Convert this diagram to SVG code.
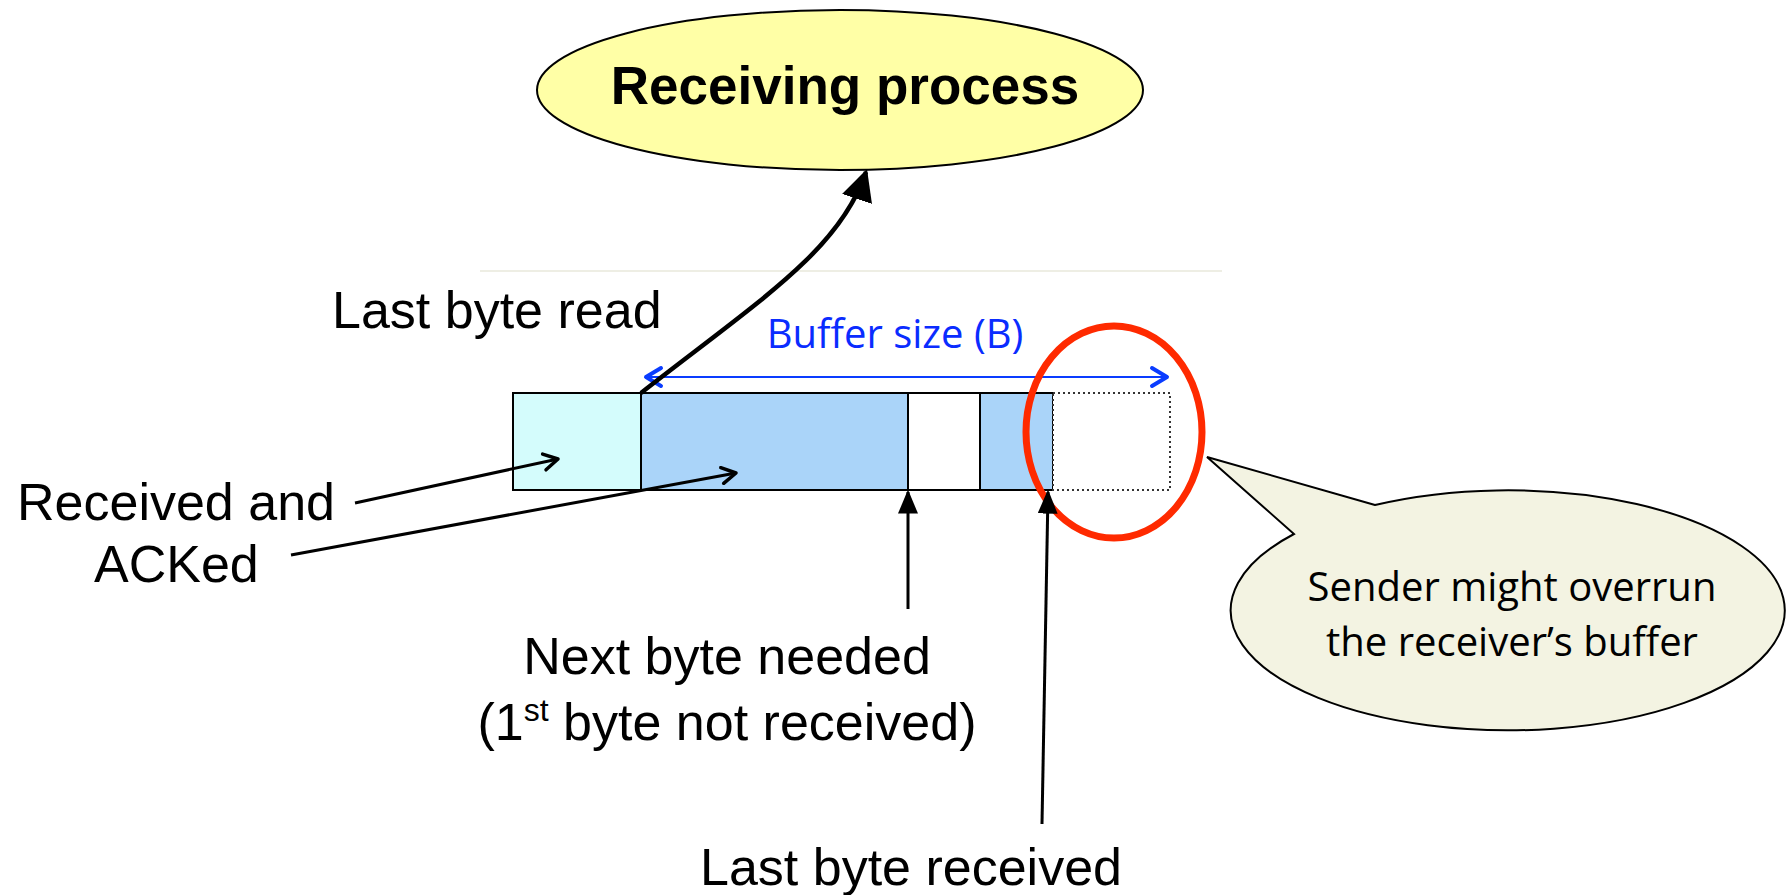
<svg xmlns="http://www.w3.org/2000/svg" width="1791" height="895" viewBox="0 0 1791 895">
<defs>
<style>
.lbl{font-family:"Liberation Sans",Arial,sans-serif;font-size:52px;fill:#000}
.cal{font-family:"Open Sans","Noto Sans",sans-serif;font-size:40px}
.box{stroke:#000;stroke-width:2}
.conn{fill:none;stroke:#000;stroke-width:3}
</style>
<marker id="fill" viewBox="0 0 10 10" refX="9" refY="5" markerWidth="24" markerHeight="20" markerUnits="userSpaceOnUse" orient="auto" preserveAspectRatio="none">
<path d="M0,0 L10,5 L0,10 z" fill="#000"/>
</marker>
<marker id="filbig" viewBox="0 0 10 10" refX="9" refY="5" markerWidth="7" markerHeight="7" orient="auto">
<path d="M0,0 L10,5 L0,10 z" fill="#000"/>
</marker>
<marker id="open" viewBox="0 0 20 20" refX="18" refY="10" markerWidth="20" markerHeight="20" markerUnits="userSpaceOnUse" orient="auto">
<path d="M4,2 L18,10 L4,18" fill="none" stroke="#000" stroke-width="3.5" stroke-linecap="round" stroke-linejoin="round"/>
</marker>
<marker id="blue" viewBox="0 0 24 24" refX="21" refY="12" markerWidth="24" markerHeight="24" markerUnits="userSpaceOnUse" orient="auto-start-reverse">
<path d="M6,3 L21,12 L6,21" fill="none" stroke="#0a3cff" stroke-width="4" stroke-linecap="round" stroke-linejoin="round"/>
</marker>
</defs>
<rect width="1791" height="895" fill="#fff"/>
<line x1="480" y1="271" x2="1222" y2="271" stroke="#eeeee4" stroke-width="2"/>

<g id="receiving-process">
<ellipse cx="840" cy="90" rx="303" ry="80" fill="#ffffa6" stroke="#000" stroke-width="2"/>
<text x="845" y="104" text-anchor="middle" font-family="Liberation Sans,Arial,sans-serif" font-size="53" font-weight="bold">Receiving process</text>
</g>

<g id="buffer">
<rect class="box" x="513" y="393" width="128" height="97" fill="#d4fcfc"/>
<rect class="box" x="641" y="393" width="267" height="97" fill="#aad4f9"/>
<rect class="box" x="908" y="393" width="72" height="97" fill="#fff"/>
<rect class="box" x="980" y="393" width="73" height="97" fill="#aad4f9"/>
<rect x="1053" y="393" width="117" height="97" fill="#fff" stroke="#333" stroke-width="2" stroke-dasharray="2,3"/>
</g>

<g id="buffer-size">
<line x1="646" y1="377" x2="1167" y2="377" stroke="#0a3cff" stroke-width="2" marker-start="url(#blue)" marker-end="url(#blue)"/>
<text class="cal" x="895" y="348" text-anchor="middle" fill="#0a2cff" font-size="41">Buffer size (B)</text>
</g>

<g id="overrun-circle">
<ellipse cx="1114" cy="432" rx="88" ry="106" fill="none" stroke="#ff2a00" stroke-width="7"/>
</g>

<g id="callout">
<path d="M1375,505 L1207,457 L1294,534 A277,120 0 1 0 1375,505 Z" fill="#f3f3e2" stroke="#000" stroke-width="2" stroke-linejoin="miter"/>
<text class="cal" x="1512" y="601" text-anchor="middle" fill="#000" font-size="41">Sender might overrun</text>
<text class="cal" x="1512" y="656" text-anchor="middle" fill="#000" font-size="41">the receiver’s buffer</text>
</g>

<g id="labels">
<text class="lbl" x="332" y="328">Last byte read</text>
<text class="lbl" x="17" y="520">Received and</text>
<text class="lbl" x="94" y="582">ACKed</text>
<text class="lbl" x="727" y="674" text-anchor="middle">Next byte needed</text>
<text class="lbl" x="727" y="740" text-anchor="middle">(1<tspan font-size="32" dy="-19">st</tspan><tspan dy="19"> byte not received)</tspan></text>
<text class="lbl" x="911" y="885" text-anchor="middle">Last byte received</text>
</g>

<g id="connectors">
<path d="M641,393 C760,300 840,250 866,172" fill="none" stroke="#000" stroke-width="4.5" marker-end="url(#filbig)"/>
<line class="conn" x1="355" y1="503" x2="558" y2="459" marker-end="url(#open)"/>
<line class="conn" x1="291" y1="555" x2="736" y2="473" marker-end="url(#open)"/>
<line class="conn" x1="908" y1="609" x2="908" y2="492" marker-end="url(#fill)"/>
<line class="conn" x1="1042" y1="824" x2="1048" y2="492" marker-end="url(#fill)"/>
</g>
</svg>
